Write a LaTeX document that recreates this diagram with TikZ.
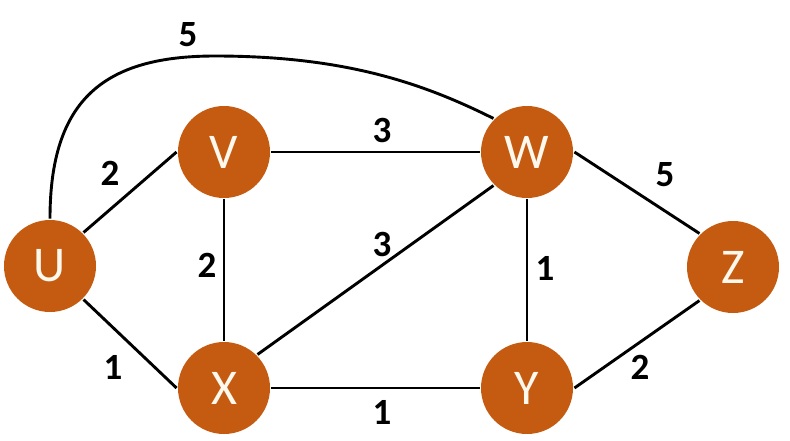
\documentclass[tikz,border=0pt]{standalone}
\usepackage{fontspec}
\setmainfont{Carlito}
\usepackage{xcolor}
\definecolor{rust}{HTML}{C55A11}
\definecolor{cream}{HTML}{FFF8EC}

\begin{document}
\begin{tikzpicture}[x=1pt,y=-1pt,
    vertex/.style={circle,fill=rust,minimum size=92pt,inner sep=0pt,
      text=cream,font=\fontsize{50}{50}\selectfont},
    weight/.style={font=\fontsize{37}{37}\selectfont\bfseries},
    line width=2.9pt]
      \useasboundingbox (0,0) rectangle (790,440);

      \node (U) at (50,266) [vertex] {U};
      \node (V) at (224,152) [vertex] {V};
      \node (W) at (527,152) [vertex] {W};
      \node (X) at (224,388) [vertex] {X};
      \node (Y) at (527,388) [vertex] {Y};
      \node (Z) at (733,267) [vertex] {Z};

      \draw (U.north east) -- (V.west);
      \draw (U.south east) -- (X.west);
      \draw (V.east) -- (W.west);
      \draw (V.south) -- (X.north);
      \draw (X.north east) -- (W.south west);
      \draw (X.east) -- (Y.west);
      \draw (W.south) -- (Y.north);
      \draw (W.east) -- (Z.north west);
      \draw (Y.east) -- (Z.south west);

      \draw (U.north) .. controls +(0,-120) and +(-110,0) .. (215,56)
                      .. controls +(130,0) and +(-70,-35) .. (W.north west);

      \node (wUW) at (188,35) [weight] {5};
      \node (wUV) at (110,173) [weight] {2};
      \node (wVX) at (207,265) [weight] {2};
      \node (wVW) at (382,130) [weight] {3};
      \node (wXW) at (382,244) [weight] {3};
      \node (wWZ) at (665,175) [weight] {5};
      \node (wWY) at (545,268) [weight] {1};
      \node (wYZ) at (640,367) [weight] {2};
      \node (wUX) at (113,367) [weight] {1};
      \node (wXY) at (382,412) [weight] {1};
    \end{tikzpicture}
\end{document}
